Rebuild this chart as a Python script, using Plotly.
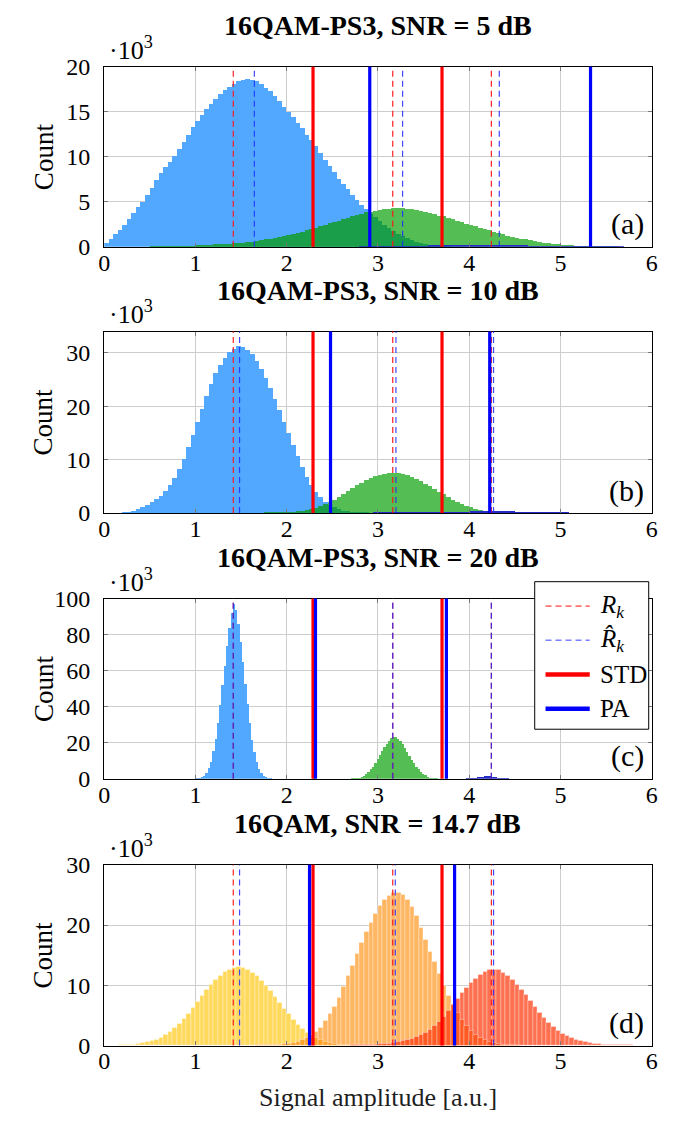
import numpy as np
import plotly.graph_objects as go

# ---------------- data (counts in thousands) ----------------
W = 0.05          # bin width panels a, b, d
WC = 0.025        # bin width panel c
N = 120

R_k = [1.414, 3.162, 4.243]
STD = [2.288, 3.702]

# (a) 16QAM-PS3, SNR = 5 dB
a_title = "16QAM-PS3, SNR = 5 dB"
a_blue_start = 0.0
a_blue = [0.4, 0.9, 1.4, 1.9, 2.5, 3.1, 3.8, 4.4, 5.0, 5.8, 6.6, 7.4, 8.2, 8.9, 9.5, 10.1, 10.9, 11.7, 12.5, 13.3,
          14.0, 14.7, 15.3, 15.9, 16.5, 17.0, 17.4, 17.8, 18.1, 18.4, 18.6, 18.7, 18.6, 18.4, 18.1, 17.7, 17.3, 16.8,
          16.2, 15.6, 15.0, 14.4, 13.8, 13.2, 12.5, 11.9, 11.2, 10.5, 9.7, 9.0, 8.3, 7.6, 7.0, 6.4, 5.8, 5.2, 4.7,
          4.2, 3.7, 3.3, 2.9, 2.5, 2.1, 1.8, 1.5, 1.2, 1.0, 0.8, 0.6, 0.45, 0.33, 0.23, 0.15, 0.1, 0.06, 0.03]
a_green_start = 0.5
a_green = [0.03, 0.04, 0.05, 0.06, 0.07, 0.08, 0.1, 0.12, 0.14, 0.16, 0.19, 0.22, 0.25, 0.28, 0.3, 0.32, 0.34,
           0.36, 0.4, 0.45, 0.5, 0.56, 0.62, 0.7, 0.78, 0.86, 0.94, 1.02, 1.1, 1.2, 1.3, 1.42, 1.55, 1.7, 1.85,
           2.0, 2.15, 2.35, 2.5, 2.65, 2.8, 2.95, 3.1, 3.25, 3.4, 3.55, 3.7, 3.85, 3.95, 4.05, 4.15, 4.2, 4.25,
           4.3, 4.3, 4.3, 4.25, 4.2, 4.1, 4.0, 3.9, 3.8, 3.65, 3.5, 3.4, 3.25, 3.1, 2.95, 2.8, 2.6, 2.45, 2.3,
           2.15, 2.0, 1.85, 1.7, 1.55, 1.4, 1.28, 1.15, 1.05, 0.95, 0.85, 0.75, 0.65, 0.56, 0.48, 0.42, 0.36,
           0.31, 0.26, 0.22, 0.18, 0.15, 0.12, 0.1, 0.08, 0.06, 0.05, 0.04, 0.03, 0.02, 0.02]
a_ring3_start = 2.8
a_ring3 = [0.03, 0.04, 0.05, 0.06, 0.07, 0.08, 0.09, 0.1, 0.11, 0.12, 0.13, 0.14, 0.15, 0.16, 0.17, 0.18, 0.19,
           0.19, 0.2, 0.2, 0.21, 0.21, 0.21, 0.22, 0.22, 0.22, 0.22, 0.22, 0.22, 0.21, 0.21, 0.21, 0.2, 0.2, 0.19,
           0.19, 0.18, 0.17, 0.16, 0.15, 0.14, 0.13, 0.12, 0.11, 0.1, 0.09, 0.08, 0.07, 0.06, 0.05, 0.05, 0.04,
           0.04, 0.03, 0.03, 0.02, 0.02, 0.02]
a_Rhat = [1.645, 3.27, 4.33]
a_PA = [2.91, 5.33]

# (b) 16QAM-PS3, SNR = 10 dB
b_title = "16QAM-PS3, SNR = 10 dB"
b_blue_start = 0.0
b_blue = [0.0, 0.02, 0.04, 0.07, 0.12, 0.25, 0.5, 0.8, 1.2, 1.6, 2.1, 2.7, 3.3, 4.2, 5.3, 6.6, 8.3, 10.2, 12.4,
          14.7, 17.2, 19.6, 22.0, 24.3, 26.3, 27.9, 29.2, 30.2, 30.9, 31.3, 31.2, 30.7, 29.8, 28.5, 27.0, 25.3,
          23.5, 21.5, 19.4, 17.2, 15.0, 12.8, 10.7, 8.7, 6.9, 5.3, 4.0, 3.0, 2.2, 1.6, 1.15, 0.8, 0.55, 0.4, 0.3,
          0.22, 0.16, 0.11, 0.08, 0.05, 0.03]
b_green_start = 1.5
b_green = [0.02, 0.03, 0.04, 0.05, 0.07, 0.09, 0.11, 0.14, 0.17, 0.21, 0.26, 0.32, 0.4, 0.5, 0.65, 0.85, 1.1,
           1.4, 1.75, 2.15, 2.6, 3.1, 3.6, 4.15, 4.7, 5.25, 5.75, 6.2, 6.6, 6.95, 7.2, 7.4, 7.55, 7.6, 7.55, 7.4,
           7.15, 6.8, 6.4, 6.0, 5.6, 5.1, 4.6, 4.1, 3.6, 3.1, 2.6, 2.2, 1.8, 1.45, 1.15, 0.9, 0.7, 0.55, 0.42,
           0.33, 0.26, 0.2, 0.15, 0.11, 0.08, 0.05, 0.03]
b_ring3_start = 2.5
b_ring3 = [0.02, 0.03, 0.03, 0.04, 0.05, 0.05, 0.06, 0.07, 0.08, 0.09, 0.1, 0.1, 0.11, 0.12, 0.13, 0.14, 0.15,
           0.16, 0.17, 0.18, 0.19, 0.2, 0.21, 0.23, 0.25, 0.27, 0.29, 0.31, 0.33, 0.35, 0.37, 0.38, 0.4, 0.41,
           0.42, 0.42, 0.42, 0.41, 0.4, 0.38, 0.36, 0.33, 0.3, 0.27, 0.24, 0.21, 0.18, 0.16, 0.14, 0.12, 0.1,
           0.09, 0.08, 0.07, 0.06, 0.05, 0.04, 0.03, 0.02, 0.02]
b_Rhat = [1.483, 3.197, 4.267]
b_PA = [2.48, 4.225]

# (c) 16QAM-PS3, SNR = 20 dB
c_title = "16QAM-PS3, SNR = 20 dB"
c_blue_start = 0.9875
c_blue = [0.1, 0.2, 0.5, 1.0, 1.9, 3.5, 6.0, 9.8, 15.5, 22.5, 31, 41, 52, 63, 74, 84, 92, 97, 94, 86, 76, 65,
          53, 42, 31, 22, 15, 9.5, 5.8, 3.4, 1.9, 1.0, 0.5, 0.25, 0.1]
c_green_start = 2.6875
c_green = [0.1, 0.2, 0.35, 0.6, 0.9, 1.4, 2.0, 2.9, 4.0, 5.4, 7.0, 8.9, 11.0, 13.2, 15.4, 17.6, 19.6, 21.3,
           22.6, 23.3, 23.2, 22.5, 21.2, 19.5, 17.4, 15.2, 13.0, 10.8, 8.8, 7.0, 5.4, 4.1, 3.0, 2.1, 1.4, 0.9,
           0.55, 0.3, 0.15, 0.05]
c_ring3_start = 3.9375
c_ring3 = [0.05, 0.15, 0.3, 0.45, 0.65, 0.85, 1.05, 1.25, 1.4, 1.5, 1.55, 1.5, 1.4, 1.3, 1.1, 0.9, 0.7, 0.5,
           0.35, 0.2, 0.1, 0.05]
c_Rhat = [1.414, 3.162, 4.243]
c_PA = [2.315, 3.75]

# (d) 16QAM, SNR = 14.7 dB
d_title = "16QAM, SNR = 14.7 dB"
d_yellow_start = 0.0
d_yellow = [0.02, 0.03, 0.04, 0.06, 0.09, 0.13, 0.2, 0.28, 0.4, 0.55, 0.75, 1.0, 1.35, 1.8, 2.3, 2.9, 3.6, 4.4,
            5.3, 6.2, 7.2, 8.2, 9.2, 10.1, 10.9, 11.6, 12.2, 12.6, 12.9, 13.0, 12.9, 12.6, 12.1, 11.5, 10.8,
            10.0, 9.1, 8.1, 7.1, 6.1, 5.2, 4.3, 3.5, 2.8, 2.2, 1.7, 1.25, 0.9, 0.65, 0.45, 0.3, 0.2, 0.13, 0.08,
            0.05, 0.03]
d_orange_start = 1.5
d_orange = [0.02, 0.03, 0.04, 0.05, 0.07, 0.09, 0.12, 0.16, 0.21, 0.28, 0.37, 0.5, 0.68, 0.92, 1.25, 1.7, 2.3,
            3.0, 4.1, 5.2, 6.5, 8.0, 9.7, 11.5, 13.3, 15.2, 17.0, 18.8, 20.4, 21.9, 23.2, 24.2, 24.9, 25.3, 25.4,
            25.0, 24.2, 23.0, 21.5, 19.5, 17.6, 15.6, 13.9, 11.9, 10.0, 8.3, 6.8, 5.5, 4.3, 3.3, 2.5, 1.85, 1.35,
            0.95, 0.65, 0.45, 0.3, 0.2, 0.13, 0.08, 0.05, 0.03]
d_red_start = 2.6
d_red = [0.03, 0.04, 0.05, 0.07, 0.09, 0.11, 0.14, 0.18, 0.22, 0.28, 0.35, 0.45, 0.57, 0.72, 0.9, 1.1, 1.4, 1.75,
         2.2, 2.7, 3.3, 4.0, 4.8, 5.7, 6.7, 7.7, 8.7, 9.6, 10.4, 11.1, 11.7, 12.2, 12.5, 12.6, 12.5, 12.1, 11.6,
         10.9, 10.1, 9.3, 8.4, 7.4, 6.4, 5.5, 4.6, 3.8, 3.1, 2.5, 2.0, 1.6, 1.25, 0.95, 0.72, 0.55, 0.42, 0.32,
         0.24, 0.18, 0.14, 0.11, 0.09, 0.07, 0.06, 0.05, 0.04, 0.03, 0.03, 0.02]
d_Rhat = [1.483, 3.19, 4.267]
d_PA = [2.25, 3.84]

panel_labels = ["(a)", "(b)", "(c)", "(d)"]
y_max = [20, 34, 100, 30]
y_ticks = [[0, 5, 10, 15, 20], [0, 10, 20, 30], [0, 20, 40, 60, 80, 100], [0, 10, 20, 30]]
x_ticks = [0, 1, 2, 3, 4, 5, 6]
legend_names = ["<i>R</i><sub><i>k</i></sub>", "<i>R\u0302</i><sub><i>k</i></sub>", "STD", "PA"]

# ---------------- styling ----------------
C_BLUE = "rgb(82,168,255)"
C_GREEN = "rgb(84,190,84)"
C_GREEN_OV = "rgb(26,158,74)"
C_RING3 = "rgb(36,44,200)"
C_YEL = "rgb(255,217,92)"
C_ORA = "rgb(255,182,98)"
C_YO_OV = "rgb(255,162,40)"
C_RED = "rgb(255,112,80)"
C_OR_OV = "rgb(255,90,35)"
FONT = "Liberation Serif"

W_PX, H_PX = 695, 1136
X0, X1 = 100, 657
panel_px = [(55, 239.3), (326, 511.7), (599.3, 783.7), (871.7, 1056.7)]


def on_grid(start, vals, width, n):
    arr = np.zeros(n)
    i0 = int(round(start / width))
    arr[i0:i0 + len(vals)] = vals
    return arr


def centers(start, vals, width):
    return start + width * (np.arange(len(vals)) + 0.5)


def px(xp):
    return xp / W_PX


def py(yp):
    return 1 - yp / H_PX


fig = go.Figure()
grid_x = (np.arange(N) + 0.5) * W


def add_bar(x, y, color, width, row, line=None):
    xa = "x" if row == 1 else f"x{row}"
    ya = "y" if row == 1 else f"y{row}"
    fig.add_trace(go.Bar(x=x, y=y, width=width, marker=dict(color=color, line=line or dict(width=0)),
                         xaxis=xa, yaxis=ya, showlegend=False, hoverinfo="skip"))


# (a)
ab = on_grid(a_blue_start, a_blue, W, N)
ag = on_grid(a_green_start, a_green, W, N)
add_bar(grid_x, ab, C_BLUE, W, 1)
add_bar(grid_x, ag, C_GREEN, W, 1)
add_bar(grid_x, np.minimum(ab, ag), C_GREEN_OV, W, 1)
add_bar(centers(a_ring3_start, a_ring3, W), a_ring3, C_RING3, W, 1)

# (b)
bb = on_grid(b_blue_start, b_blue, W, N)
bg = on_grid(b_green_start, b_green, W, N)
add_bar(grid_x, bb, C_BLUE, W, 2)
add_bar(grid_x, bg, C_GREEN, W, 2)
add_bar(grid_x, np.minimum(bb, bg), C_GREEN_OV, W, 2)
add_bar(centers(b_ring3_start, b_ring3, W), b_ring3, C_RING3, W, 2)

# (c)
add_bar(centers(c_blue_start, c_blue, WC), c_blue, C_BLUE, WC, 3)
add_bar(centers(c_green_start, c_green, WC), c_green, C_GREEN, WC, 3)
add_bar(centers(c_ring3_start, c_ring3, WC), c_ring3, C_RING3, WC, 3)

# (d)
sep = dict(width=0.6, color="rgba(255,255,255,0.55)")
dy = on_grid(d_yellow_start, d_yellow, W, N)
do = on_grid(d_orange_start, d_orange, W, N)
dr = on_grid(d_red_start, d_red, W, N)
add_bar(grid_x, dy, C_YEL, W, 4, sep)
add_bar(grid_x, do, C_ORA, W, 4, sep)
add_bar(grid_x, dr, C_RED, W, 4, sep)
add_bar(grid_x, np.minimum(dy, do), C_YO_OV, W, 4, sep)
add_bar(grid_x, np.minimum(do, dr), C_OR_OV, W, 4, sep)

# vertical lines
shapes = []
rhats = [a_Rhat, b_Rhat, c_Rhat, d_Rhat]
pas = [a_PA, b_PA, c_PA, d_PA]
DASH = "6px,4px"
for i in range(4):
    xr = "x" if i == 0 else f"x{i+1}"
    yr = "y domain" if i == 0 else f"y{i+1} domain"
    def vline(xv, color, width, dash):
        shapes.append(dict(type="line", xref=xr, yref=yr, x0=xv, x1=xv, y0=0, y1=1,
                           line=dict(color=color, width=width, dash=dash), layer="above"))
    for v in R_k:
        vline(v, "rgba(255,20,20,0.95)", 1.2, DASH)
    for v in rhats[i]:
        vline(v, "rgba(30,40,255,0.85)", 1.2, DASH)
    for v in STD:
        vline(v, "rgb(255,0,0)", 3.2, "solid")
    for v in pas[i]:
        vline(v, "rgb(0,0,255)", 3.2, "solid")

titles = [a_title, b_title, c_title, d_title]
annotations = []
layout_axes = {}
for i in range(4):
    top, bot = panel_px[i]
    dom_y = [py(bot), py(top)]
    xk = "xaxis" if i == 0 else f"xaxis{i+1}"
    yk = "yaxis" if i == 0 else f"yaxis{i+1}"
    ya_name = "y" if i == 0 else f"y{i+1}"
    xa_name = "x" if i == 0 else f"x{i+1}"
    common = dict(showline=True, linecolor="black", linewidth=1.2, mirror="ticks",
                  ticks="inside", ticklen=4, tickcolor="rgb(120,120,120)",
                  showgrid=True, gridcolor="rgb(205,205,205)", gridwidth=1, zeroline=False,
                  tickfont=dict(family=FONT, size=24, color="black"))
    layout_axes[xk] = dict(domain=[px(X0), px(X1)], range=[0, 6], tickvals=x_ticks,
                           anchor=ya_name, ticklabelstandoff=-6, **common)
    layout_axes[yk] = dict(domain=dom_y, range=[0, y_max[i]], tickvals=y_ticks[i],
                           anchor=xa_name, ticklabelstandoff=8, **common)
    annotations.append(dict(text=f"<b>{titles[i]}</b>", x=px((X0 + X1) / 2), y=py(top - 42),
                            xref="paper", yref="paper", showarrow=False, xanchor="center", yanchor="middle",
                            font=dict(family=FONT, size=28, color="black")))
    annotations.append(dict(text="\u00b710<sup>3</sup>", x=px(103), y=py(top - 19),
                            xref="paper", yref="paper", showarrow=False, xanchor="left", yanchor="middle",
                            font=dict(family=FONT, size=26, color="black")))
    annotations.append(dict(text="Count", x=px(38), y=py((top + bot) / 2), textangle=-90,
                            xref="paper", yref="paper", showarrow=False, xanchor="center", yanchor="middle",
                            font=dict(family=FONT, size=27, color="black")))
    annotations.append(dict(text=panel_labels[i], x=px(651), y=py(bot - 23),
                            xref="paper", yref="paper", showarrow=False, xanchor="right", yanchor="middle",
                            font=dict(family=FONT, size=30, color="black")))

annotations.append(dict(text="Signal amplitude [a.u.]", x=px((X0 + X1) / 2), y=py(1110),
                        xref="paper", yref="paper", showarrow=False, xanchor="center", yanchor="middle",
                        font=dict(family=FONT, size=26, color="rgb(30,30,30)")))

# legend box (drawn in panel c)
LB = dict(x0=538, x1=654, y0=582, y1=733)
shapes.append(dict(type="rect", xref="paper", yref="paper", x0=px(LB["x0"]), x1=px(LB["x1"]),
                   y0=py(LB["y1"]), y1=py(LB["y0"]), fillcolor="white",
                   line=dict(color="black", width=1), layer="above"))
leg_y = [607, 642, 677, 712]
leg_style = [dict(color="rgba(255,70,70,0.75)", width=1.6, dash=DASH),
             dict(color="rgba(50,60,255,0.65)", width=1.6, dash=DASH),
             dict(color="rgb(255,0,0)", width=4.5, dash="solid"),
             dict(color="rgb(0,0,255)", width=4.5, dash="solid")]
for name, yv, st in zip(legend_names, leg_y, leg_style):
    shapes.append(dict(type="line", xref="paper", yref="paper", x0=px(549), x1=px(594),
                       y0=py(yv), y1=py(yv), line=st, layer="above"))
    annotations.append(dict(text=name, x=px(602), y=py(yv), xref="paper", yref="paper", showarrow=False,
                            xanchor="left", yanchor="middle",
                            font=dict(family=FONT, size=25, color="black")))

fig.update_layout(
    width=W_PX, height=H_PX, margin=dict(l=0, r=0, t=0, b=0),
    paper_bgcolor="white", plot_bgcolor="white",
    barmode="overlay", bargap=0, showlegend=False,
    shapes=shapes, annotations=annotations,
    **layout_axes,
)

fig.write_html("out.html")
